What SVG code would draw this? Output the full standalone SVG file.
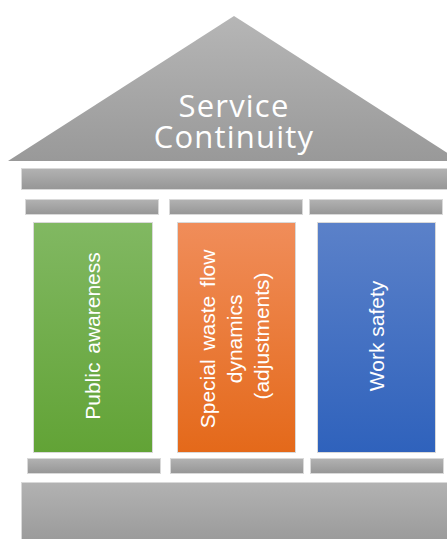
<svg xmlns="http://www.w3.org/2000/svg" width="447" height="539" viewBox="0 0 447 539">
<defs>
<linearGradient id="gRoof" x1="0" y1="0" x2="0" y2="1"><stop offset="0" stop-color="#b6b6b6"/><stop offset="1" stop-color="#999999"/></linearGradient>
<linearGradient id="gBar" x1="0" y1="0" x2="0" y2="1"><stop offset="0" stop-color="#b2b2b2"/><stop offset="1" stop-color="#969696"/></linearGradient>
<linearGradient id="gGreen" x1="0" y1="0" x2="0" y2="1"><stop offset="0" stop-color="#81b862"/><stop offset="1" stop-color="#62a336"/></linearGradient>
<linearGradient id="gOrange" x1="0" y1="0" x2="0" y2="1"><stop offset="0" stop-color="#f08d5a"/><stop offset="1" stop-color="#e4691a"/></linearGradient>
<linearGradient id="gBlue" x1="0" y1="0" x2="0" y2="1"><stop offset="0" stop-color="#5b81c9"/><stop offset="1" stop-color="#2f62bc"/></linearGradient>
</defs>
<style>
.bar{fill:url(#gBar);stroke:#d9d9d9;stroke-width:1}
.col{stroke:#d9d9d9;stroke-width:1}
.lbl{font-family:"Liberation Sans",Arial,sans-serif;font-size:21px;fill:#ffffff;text-anchor:middle}
.title{font-family:"Open Sans","Noto Sans",sans-serif;font-size:31px;letter-spacing:1.2px;fill:#ffffff;text-anchor:middle}
</style>
<g id="roof">
<polygon points="234,16 460,161 8,161" fill="url(#gRoof)"/>
<text class="title"><tspan x="234" y="117">Service</tspan><tspan x="234" y="148">Continuity</tspan></text>
</g>
<g id="beam"><rect class="bar" x="21.5" y="168.5" width="430" height="21"/></g>
<g id="capitals">
<rect class="bar" x="25.5" y="199.5" width="133" height="15"/>
<rect class="bar" x="169.5" y="199.5" width="133" height="15"/>
<rect class="bar" x="309.5" y="199.5" width="133" height="15"/>
</g>
<g id="col-public">
<rect class="col" x="33.5" y="222.5" width="119" height="230" fill="url(#gGreen)"/>
<text class="lbl" transform="translate(100,336) rotate(-90)" x="0" y="0" word-spacing="3">Public awareness</text>
</g>
<g id="col-special">
<rect class="col" x="177.5" y="222.5" width="118" height="230" fill="url(#gOrange)"/>
<text class="lbl" transform="translate(0,336) rotate(-90)">
<tspan x="0" y="215" word-spacing="3">Special waste flow</tspan>
<tspan x="0" y="242">dynamics</tspan>
<tspan x="0" y="269">(adjustments)</tspan>
</text>
</g>
<g id="col-work">
<rect class="col" x="317.5" y="222.5" width="118" height="230" fill="url(#gBlue)"/>
<text class="lbl" transform="translate(384,336) rotate(-90)" x="0" y="0">Work safety</text>
</g>
<g id="bases">
<rect class="bar" x="27.5" y="458.5" width="133" height="15"/>
<rect class="bar" x="170.5" y="458.5" width="133" height="15"/>
<rect class="bar" x="310.5" y="458.5" width="133" height="15"/>
</g>
<g id="foundation"><rect class="bar" x="21.5" y="482.5" width="430" height="70"/></g>
<g id="connectors"/>
</svg>
